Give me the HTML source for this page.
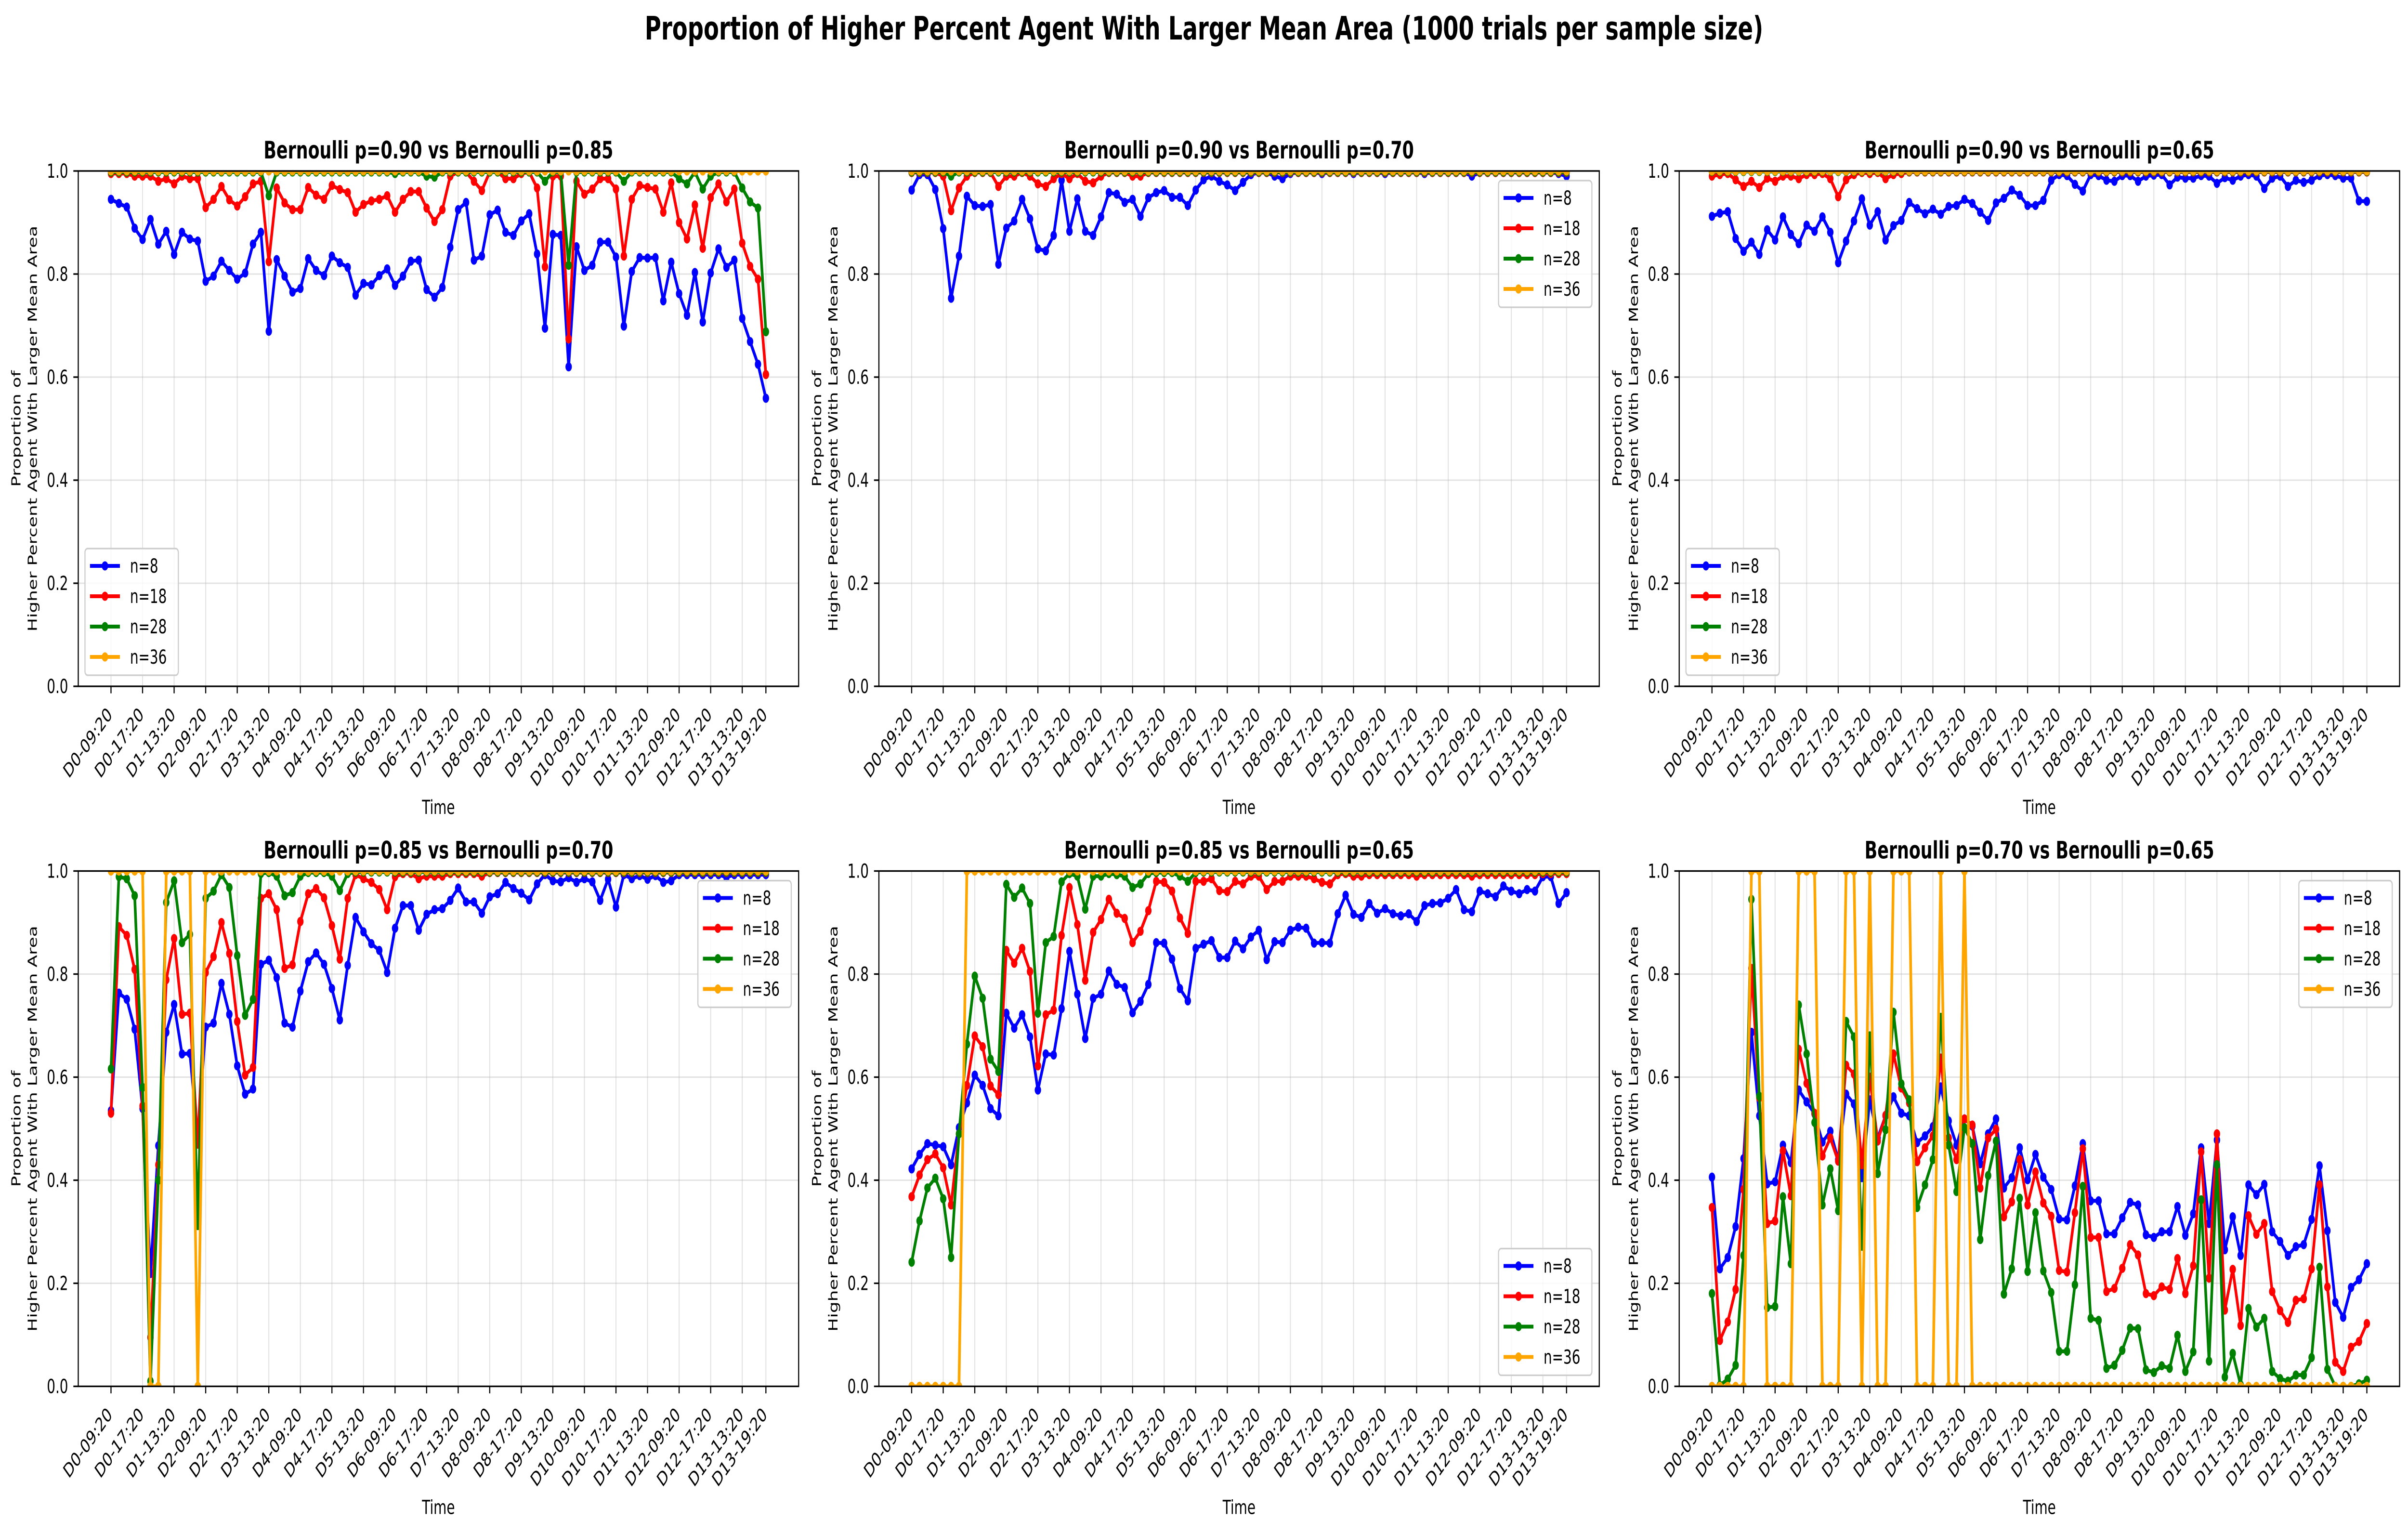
<!DOCTYPE html>
<html><head><meta charset="utf-8">
<style>
html,body{margin:0;padding:0;background:#fff;width:100%;height:100%;overflow:hidden;}
svg{display:block;width:100vw;height:100vh;font-family:"DejaVu Sans","Liberation Sans",sans-serif;}
</style></head>
<body>
<svg id="fig" xmlns="http://www.w3.org/2000/svg" viewBox="0 0 7170 3183" preserveAspectRatio="none">
<rect width="7170" height="3183" fill="#fff"/>
<text x="3585" y="82" text-anchor="middle" font-size="66.7" font-weight="bold">Proportion of Higher Percent Agent With Larger Mean Area (1000 trials per sample size)</text>
</svg>
<script>
// ---------- data ----------
const tickLabels = ["D0-09:20","D0-17:20","D1-13:20","D2-09:20","D2-17:20","D3-13:20","D4-09:20","D4-17:20","D5-13:20","D6-09:20","D6-17:20","D7-13:20","D8-09:20","D8-17:20","D9-13:20","D10-09:20","D10-17:20","D11-13:20","D12-09:20","D12-17:20","D13-13:20","D13-19:20"];
const tickIndex = [0,4,8,12,16,20,24,28,32,36,40,44,48,52,56,60,64,68,72,76,80,83];
const yTicks = [0.0,0.2,0.4,0.6,0.8,1.0];
const seriesNames = ["n=8","n=18","n=28","n=36"];
const panelTitles = ["Bernoulli p=0.90 vs Bernoulli p=0.85","Bernoulli p=0.90 vs Bernoulli p=0.70","Bernoulli p=0.90 vs Bernoulli p=0.65","Bernoulli p=0.85 vs Bernoulli p=0.70","Bernoulli p=0.85 vs Bernoulli p=0.65","Bernoulli p=0.70 vs Bernoulli p=0.65"];

const p1_n8 = [0.945,0.937,0.93,0.889,0.867,0.906,0.858,0.883,0.838,0.881,0.868,0.864,0.786,0.796,0.825,0.807,0.79,0.802,0.858,0.881,0.689,0.828,0.796,0.765,0.772,0.83,0.807,0.797,0.835,0.822,0.813,0.759,0.782,0.779,0.797,0.81,0.778,0.796,0.825,0.827,0.77,0.755,0.774,0.852,0.925,0.939,0.827,0.835,0.915,0.924,0.881,0.875,0.903,0.917,0.839,0.695,0.877,0.875,0.62,0.853,0.807,0.817,0.862,0.862,0.833,0.699,0.805,0.832,0.831,0.832,0.748,0.823,0.762,0.72,0.803,0.707,0.802,0.849,0.813,0.827,0.714,0.669,0.625,0.559];
const p1_n18 = [0.995,0.995,0.995,0.99,0.99,0.99,0.98,0.985,0.975,0.99,0.985,0.985,0.929,0.945,0.97,0.944,0.932,0.95,0.975,0.98,0.824,0.967,0.938,0.925,0.925,0.968,0.953,0.945,0.972,0.964,0.958,0.92,0.935,0.942,0.945,0.952,0.92,0.945,0.96,0.96,0.928,0.902,0.925,0.99,0.998,0.998,0.98,0.962,0.998,0.998,0.985,0.985,0.995,0.998,0.967,0.814,0.99,0.99,0.674,0.98,0.955,0.965,0.985,0.985,0.965,0.835,0.945,0.972,0.968,0.965,0.92,0.977,0.9,0.868,0.934,0.85,0.948,0.975,0.94,0.965,0.86,0.815,0.79,0.605];
const p1_n28 = [0.998,0.998,0.998,0.998,0.998,0.998,0.998,0.998,0.998,0.998,0.998,0.998,0.998,0.998,0.998,0.998,0.998,0.998,0.998,0.998,0.952,0.998,0.998,0.998,0.998,0.998,0.998,0.998,0.998,0.998,0.998,0.998,0.998,0.998,0.998,0.998,0.995,0.998,0.998,0.998,0.99,0.988,0.998,0.998,0.998,0.998,0.998,0.998,0.998,0.998,0.998,0.998,0.998,0.998,0.998,0.98,0.998,0.998,0.817,0.998,0.998,0.998,0.998,0.998,0.998,0.98,0.998,0.998,0.998,0.998,0.998,0.998,0.985,0.975,0.998,0.965,0.99,0.998,0.998,0.998,0.967,0.94,0.928,0.688];
const p1_n36 = [1,1,1,1,1,1,1,1,1,1,1,1,1,1,1,1,1,1,1,1,1,1,1,1,1,1,1,1,1,1,1,1,1,1,1,1,1,1,1,1,1,1,1,1,1,1,1,1,1,1,1,1,1,1,1,1,1,1,1,1,1,1,1,1,1,1,1,1,1,1,1,1,1,1,1,1,1,1,1,1,1,1,1,1];

const p2_n8 = [0.963,0.993,0.993,0.964,0.888,0.753,0.835,0.951,0.933,0.931,0.935,0.819,0.889,0.903,0.945,0.907,0.849,0.845,0.875,0.982,0.883,0.946,0.883,0.875,0.911,0.958,0.955,0.939,0.945,0.912,0.948,0.958,0.962,0.949,0.949,0.933,0.963,0.983,0.99,0.98,0.973,0.962,0.978,0.993,0.997,0.997,0.99,0.985,0.995,0.997,0.997,0.997,0.995,0.997,0.997,0.997,0.995,0.997,0.997,0.997,0.995,0.997,0.997,0.997,0.997,0.995,0.997,0.997,0.997,0.997,0.997,0.99,0.997,0.997,0.997,0.997,0.997,0.997,0.997,0.997,0.997,0.997,0.995,0.99];
const p2_n18 = [0.997,0.997,0.997,0.997,0.99,0.923,0.967,0.99,0.997,0.997,0.997,0.97,0.99,0.99,0.997,0.99,0.975,0.97,0.985,0.995,0.985,0.995,0.98,0.977,0.99,0.997,0.997,0.997,0.99,0.99,0.997,0.997,0.997,0.997,0.997,0.997,0.997,0.997,0.997,0.997,0.997,0.997,0.997,0.997,0.997,0.997,0.997,0.997,0.997,0.997,0.997,0.997,0.997,0.997,0.997,0.997,0.997,0.997,0.997,0.997,0.997,0.997,0.997,0.997,0.997,0.997,0.997,0.997,0.997,0.997,0.997,0.997,0.997,0.997,0.997,0.997,0.997,0.997,0.997,0.997,0.997,0.997,0.997,0.997];
const p2_n28 = [0.998,0.998,0.998,0.998,0.998,0.99,0.998,0.998,0.998,0.998,0.998,0.998,0.998,0.998,0.998,0.998,0.998,0.998,0.998,0.998,0.998,0.998,0.998,0.998,0.998,0.998,0.998,0.998,0.998,0.998,0.998,0.998,0.998,0.998,0.998,0.998,0.998,0.998,0.998,0.998,0.998,0.998,0.998,0.998,0.998,0.998,0.998,0.998,0.998,0.998,0.998,0.998,0.998,0.998,0.998,0.998,0.998,0.998,0.998,0.998,0.998,0.998,0.998,0.998,0.998,0.998,0.998,0.998,0.998,0.998,0.998,0.998,0.998,0.998,0.998,0.998,0.998,0.998,0.998,0.998,0.998,0.998,0.998,0.998];
const p2_n36 = [1,1,1,1,1,1,1,1,1,1,1,1,1,1,1,1,1,1,1,1,1,1,1,1,1,1,1,1,1,1,1,1,1,1,1,1,1,1,1,1,1,1,1,1,1,1,1,1,1,1,1,1,1,1,1,1,1,1,1,1,1,1,1,1,1,1,1,1,1,1,1,1,1,1,1,1,1,1,1,1,1,1,1,1];

const p3_n8 = [0.912,0.918,0.921,0.869,0.844,0.862,0.838,0.886,0.866,0.911,0.877,0.859,0.895,0.883,0.911,0.881,0.822,0.864,0.903,0.946,0.895,0.921,0.866,0.894,0.904,0.939,0.927,0.917,0.926,0.916,0.931,0.933,0.945,0.937,0.92,0.904,0.938,0.947,0.963,0.953,0.933,0.933,0.943,0.982,0.993,0.991,0.974,0.961,0.993,0.991,0.982,0.98,0.991,0.991,0.98,0.99,0.992,0.993,0.973,0.988,0.986,0.986,0.991,0.99,0.976,0.987,0.982,0.99,0.993,0.99,0.966,0.986,0.99,0.97,0.982,0.978,0.982,0.991,0.993,0.991,0.986,0.986,0.942,0.941];
const p3_n18 = [0.99,0.993,0.995,0.983,0.97,0.98,0.968,0.986,0.98,0.99,0.99,0.985,0.993,0.993,0.995,0.985,0.95,0.983,0.993,0.997,0.995,0.997,0.985,0.993,0.995,0.998,0.998,0.998,0.998,0.998,0.998,0.998,0.998,0.998,0.998,0.998,0.998,0.998,0.998,0.998,0.998,0.998,0.998,0.998,0.998,0.998,0.998,0.998,0.998,0.998,0.998,0.998,0.998,0.998,0.998,0.998,0.998,0.998,0.998,0.998,0.998,0.998,0.998,0.998,0.998,0.998,0.998,0.998,0.998,0.998,0.998,0.998,0.998,0.998,0.998,0.998,0.998,0.998,0.998,0.998,0.998,0.998,0.998,0.998];
const p3_n28 = [0.999,0.999,0.999,0.999,0.999,0.999,0.999,0.999,0.999,0.999,0.999,0.999,0.999,0.999,0.999,0.999,0.999,0.999,0.999,0.999,0.999,0.999,0.999,0.999,0.999,0.999,0.999,0.999,0.999,0.999,0.999,0.999,0.999,0.999,0.999,0.999,0.999,0.999,0.999,0.999,0.999,0.999,0.999,0.999,0.999,0.999,0.999,0.999,0.999,0.999,0.999,0.999,0.999,0.999,0.999,0.999,0.999,0.999,0.999,0.999,0.999,0.999,0.999,0.999,0.999,0.999,0.999,0.999,0.999,0.999,0.999,0.999,0.999,0.999,0.999,0.999,0.999,0.999,0.999,0.999,0.999,0.999,0.999,0.999];
const p3_n36 = [1,1,1,1,1,1,1,1,1,1,1,1,1,1,1,1,1,1,1,1,1,1,1,1,1,1,1,1,1,1,1,1,1,1,1,1,1,1,1,1,1,1,1,1,1,1,1,1,1,1,1,1,1,1,1,1,1,1,1,1,1,1,1,1,1,1,1,1,1,1,1,1,1,1,1,1,1,1,1,1,1,1,1,1];

const p4_n8 = [0.535,0.763,0.751,0.693,0.539,0.219,0.467,0.687,0.741,0.645,0.646,0.482,0.697,0.705,0.782,0.722,0.622,0.567,0.577,0.819,0.827,0.793,0.705,0.697,0.767,0.824,0.841,0.819,0.772,0.711,0.817,0.91,0.882,0.859,0.846,0.803,0.889,0.933,0.933,0.885,0.916,0.925,0.927,0.943,0.967,0.94,0.94,0.918,0.95,0.956,0.978,0.966,0.957,0.944,0.975,0.993,0.981,0.979,0.987,0.978,0.985,0.979,0.943,0.984,0.93,0.993,0.985,0.991,0.984,0.991,0.978,0.981,0.993,0.993,0.993,0.993,0.993,0.993,0.988,0.993,0.993,0.993,0.993,0.993];
const p4_n18 = [0.53,0.892,0.875,0.809,0.544,0.095,0.43,0.789,0.869,0.722,0.724,0.47,0.803,0.834,0.9,0.84,0.708,0.604,0.619,0.947,0.956,0.925,0.811,0.818,0.902,0.956,0.966,0.948,0.894,0.829,0.947,0.993,0.985,0.978,0.964,0.925,0.989,0.995,0.995,0.985,0.99,0.99,0.99,0.995,0.995,0.995,0.995,0.99,0.997,0.997,0.997,0.997,0.997,0.997,0.997,0.997,0.997,0.997,0.997,0.997,0.997,0.997,0.997,0.997,0.997,0.997,0.997,0.997,0.997,0.997,0.997,0.997,0.997,0.997,0.997,0.997,0.997,0.997,0.997,0.997,0.997,0.997,0.997,0.997];
const p4_n28 = [0.616,0.989,0.985,0.952,0.58,0.01,0.4,0.939,0.981,0.861,0.877,0.312,0.947,0.961,0.993,0.968,0.836,0.72,0.751,0.995,0.997,0.99,0.952,0.958,0.99,0.997,0.997,0.997,0.99,0.962,0.995,0.998,0.998,0.998,0.998,0.998,0.998,0.998,0.998,0.998,0.998,0.998,0.998,0.998,0.998,0.998,0.998,0.998,0.998,0.998,0.998,0.998,0.998,0.998,0.998,0.998,0.998,0.998,0.998,0.998,0.998,0.998,0.998,0.998,0.998,0.998,0.998,0.998,0.998,0.998,0.998,0.998,0.998,0.998,0.998,0.998,0.998,0.998,0.998,0.998,0.998,0.998,0.998,0.998];
const p4_n36 = [1,1,1,1,1,0,0,1,1,1,1,0,1,1,1,1,1,1,1,1,1,1,1,1,1,1,1,1,1,1,1,1,1,1,1,1,1,1,1,1,1,1,1,1,1,1,1,1,1,1,1,1,1,1,1,1,1,1,1,1,1,1,1,1,1,1,1,1,1,1,1,1,1,1,1,1,1,1,1,1,1,1,1,1];

const p5_n8 = [0.422,0.45,0.471,0.468,0.465,0.43,0.502,0.55,0.604,0.584,0.539,0.525,0.724,0.695,0.721,0.678,0.575,0.645,0.643,0.733,0.844,0.761,0.675,0.753,0.761,0.806,0.78,0.774,0.725,0.747,0.78,0.861,0.86,0.829,0.772,0.748,0.85,0.858,0.865,0.832,0.832,0.864,0.849,0.872,0.885,0.828,0.863,0.861,0.885,0.891,0.889,0.86,0.861,0.86,0.917,0.953,0.916,0.91,0.937,0.918,0.927,0.917,0.913,0.917,0.902,0.933,0.937,0.938,0.947,0.964,0.925,0.921,0.961,0.956,0.95,0.971,0.961,0.956,0.964,0.961,0.989,0.989,0.937,0.958];
const p5_n18 = [0.368,0.41,0.44,0.451,0.424,0.352,0.49,0.584,0.68,0.659,0.583,0.566,0.846,0.821,0.85,0.805,0.622,0.721,0.73,0.875,0.968,0.896,0.788,0.881,0.906,0.945,0.918,0.908,0.861,0.883,0.923,0.98,0.978,0.961,0.909,0.879,0.98,0.98,0.985,0.962,0.96,0.98,0.975,0.99,0.99,0.964,0.98,0.98,0.99,0.99,0.99,0.985,0.978,0.975,0.993,0.995,0.99,0.99,0.993,0.993,0.993,0.993,0.993,0.993,0.99,0.993,0.993,0.993,0.993,0.993,0.993,0.99,0.993,0.993,0.993,0.993,0.993,0.993,0.993,0.993,0.995,0.995,0.995,0.995];
const p5_n28 = [0.241,0.321,0.385,0.404,0.364,0.25,0.49,0.664,0.796,0.753,0.635,0.611,0.974,0.949,0.967,0.937,0.724,0.861,0.873,0.979,0.995,0.99,0.926,0.99,0.99,0.995,0.993,0.99,0.968,0.975,0.995,0.997,0.997,0.997,0.99,0.98,0.997,0.998,0.998,0.998,0.998,0.998,0.998,0.998,0.998,0.998,0.998,0.998,0.998,0.998,0.998,0.998,0.998,0.998,0.998,0.998,0.998,0.998,0.998,0.998,0.998,0.998,0.998,0.998,0.998,0.998,0.998,0.998,0.998,0.998,0.998,0.998,0.998,0.998,0.998,0.998,0.998,0.998,0.998,0.998,0.998,0.998,0.998,0.998];
const p5_n36 = [0,0,0,0,0,0,0,1,1,1,1,1,1,1,1,1,1,1,1,1,1,1,1,1,1,1,1,1,1,1,1,1,1,1,1,1,1,1,1,1,1,1,1,1,1,1,1,1,1,1,1,1,1,1,1,1,1,1,1,1,1,1,1,1,1,1,1,1,1,1,1,1,1,1,1,1,1,1,1,1,1,1,1,1];

const p6_n8 = [0.406,0.228,0.25,0.31,0.442,0.687,0.525,0.393,0.397,0.468,0.434,0.575,0.552,0.529,0.474,0.495,0.44,0.567,0.548,0.405,0.556,0.482,0.525,0.562,0.53,0.525,0.473,0.486,0.504,0.581,0.515,0.468,0.519,0.505,0.432,0.49,0.519,0.385,0.405,0.463,0.401,0.45,0.406,0.382,0.325,0.323,0.389,0.471,0.36,0.36,0.296,0.296,0.327,0.357,0.352,0.294,0.289,0.3,0.3,0.349,0.293,0.335,0.463,0.316,0.478,0.265,0.329,0.254,0.391,0.372,0.392,0.3,0.281,0.254,0.271,0.275,0.324,0.428,0.302,0.163,0.134,0.192,0.207,0.238];
const p6_n18 = [0.347,0.089,0.125,0.188,0.382,0.811,0.56,0.316,0.321,0.457,0.37,0.654,0.588,0.53,0.447,0.482,0.437,0.623,0.606,0.43,0.6,0.476,0.526,0.645,0.579,0.55,0.436,0.463,0.486,0.637,0.482,0.44,0.519,0.507,0.385,0.482,0.499,0.329,0.358,0.44,0.352,0.416,0.356,0.33,0.225,0.222,0.337,0.461,0.289,0.289,0.184,0.19,0.229,0.275,0.255,0.18,0.176,0.193,0.188,0.248,0.18,0.234,0.455,0.21,0.49,0.148,0.227,0.118,0.331,0.295,0.316,0.184,0.147,0.124,0.167,0.17,0.228,0.391,0.193,0.047,0.029,0.076,0.087,0.122];
const p6_n28 = [0.18,0.002,0.014,0.041,0.254,0.945,0.563,0.153,0.155,0.368,0.238,0.74,0.645,0.512,0.352,0.422,0.341,0.708,0.678,0.272,0.68,0.413,0.498,0.726,0.587,0.556,0.347,0.391,0.44,0.716,0.468,0.378,0.502,0.471,0.285,0.409,0.476,0.179,0.228,0.365,0.223,0.337,0.224,0.182,0.068,0.068,0.197,0.388,0.132,0.128,0.035,0.041,0.07,0.113,0.112,0.032,0.027,0.04,0.035,0.099,0.029,0.067,0.362,0.049,0.43,0.018,0.064,0.003,0.151,0.115,0.132,0.029,0.015,0.01,0.022,0.022,0.056,0.231,0.033,0,0,0,0.005,0.012];
const p6_n36 = [0,0,0,0,0,1,1,0,0,0,0,1,1,1,0,0,0,1,1,0,1,0,0,1,1,1,0,0,0,1,0,0,1,0,0,0,0,0,0,0,0,0,0,0,0,0,0,0,0,0,0,0,0,0,0,0,0,0,0,0,0,0,0,0,0,0,0,0,0,0,0,0,0,0,0,0,0,0,0,0,0,0,0,0];

const panelData = [[p1_n8,p1_n18,p1_n28,p1_n36],[p2_n8,p2_n18,p2_n28,p2_n36],[p3_n8,p3_n18,p3_n28,p3_n36],[p4_n8,p4_n18,p4_n28,p4_n36],[p5_n8,p5_n18,p5_n28,p5_n36],[p6_n8,p6_n18,p6_n28,p6_n36]];
const legendLoc = ["lower left","upper right","lower left","upper right","lower right","upper right"];

// ---------- drawing ----------
const NS = "http://www.w3.org/2000/svg";
const svg = document.getElementById("fig");
const COLORS = ["#0000ff","#ff0000","#008000","#ffa500"];
const AX_W = 2145, AX_H = 1070;
const LEFTS = [233, 2617, 5000], TOPS = [355, 1808.5];
const NPTS = 84;

function mk(tag, attrs, parent) {
  const e = document.createElementNS(NS, tag);
  for (const k in attrs) e.setAttribute(k, attrs[k]);
  (parent || svg).appendChild(e);
  return e;
}

panelData.forEach((series, p) => {
  const L = LEFTS[p % 3], T = TOPS[Math.floor(p / 3)], B = T + AX_H, R = L + AX_W;
  const xs = i => L + AX_W * (i + 0.05 * (NPTS - 1)) / ((NPTS - 1) * 1.1);
  const ys = v => B - v * AX_H;

  const g = mk("g", {});
  
  

  const cp = mk("clipPath", { id: "clip" + p }, g);
  mk("rect", { x: L, y: T, width: AX_W, height: AX_H }, cp);

  const grid = mk("g", { stroke: "#b0b0b0", "stroke-opacity": "0.35", "stroke-width": "3" }, g);
  
  
  tickIndex.forEach(ti => mk("line", { x1: xs(ti), x2: xs(ti), y1: T, y2: B }, grid));
  yTicks.forEach(v => mk("line", { x1: L, x2: R, y1: ys(v), y2: ys(v) }, grid));

  series.forEach((vals, s) => {
    const sg = mk("g", { "clip-path": "url(#clip" + p + ")" }, g);
    
    
    const pts = vals.map((v, i) => xs(i).toFixed(1) + "," + ys(v).toFixed(1)).join(" ");
    const pl = mk("polyline", { points: pts, fill: "none", stroke: COLORS[s], "stroke-width": "8", "stroke-linejoin": "round" }, sg);
    
    
    vals.forEach((v, i) => {
      const c = mk("circle", { cx: xs(i).toFixed(1), cy: ys(v).toFixed(1), r: "9.5", fill: COLORS[s] }, sg);
      
      
    });
  });

  const sp = mk("rect", { x: L, y: T, width: AX_W, height: AX_H, fill: "none", stroke: "#000", "stroke-width": "3.3" }, g);
  
  

  yTicks.forEach(v => {
    mk("line", { x1: L - 14.6, x2: L, y1: ys(v), y2: ys(v), stroke: "#000", "stroke-width": "3.3" }, g);
    const t = mk("text", { x: L - 30, y: ys(v) + 14, "text-anchor": "end", "font-size": "40" }, g);
    
    
    t.textContent = v.toFixed(1);
  });
  tickIndex.forEach((ti, k) => {
    const x = xs(ti);
    mk("line", { x1: x, x2: x, y1: B, y2: B + 14.6, stroke: "#000", "stroke-width": "3.3" }, g);
    const t = mk("text", { x: 0, y: 0, "text-anchor": "end", "font-size": "40", transform: "translate(" + (x + 6).toFixed(1) + "," + (B + 61) + ") rotate(-45)" }, g);
    
    
    t.textContent = tickLabels[k];
  });

  const tt = mk("text", { x: L + AX_W / 2, y: T - 26, "text-anchor": "middle", "font-size": "50", "font-weight": "bold" }, g);
  
  
  tt.textContent = panelTitles[p];

  const xl = mk("text", { x: L + AX_W / 2, y: B + 265, "text-anchor": "middle", "font-size": "40" }, g);
  
  
  xl.textContent = "Time";
  const yl = mk("text", { "text-anchor": "middle", "font-size": "37.5", transform: "translate(" + (L - 172) + "," + (T + AX_H / 2) + ") rotate(-90)" }, g);
  
  
  const t1 = mk("tspan", { x: 0, y: 0 }, yl); t1.textContent = "Proportion of";
  const t2 = mk("tspan", { x: 0, y: 49 }, yl); t2.textContent = "Higher Percent Agent With Larger Mean Area";

  const LW = 278, LH = 263;
  let lx, ly;
  if (legendLoc[p] === "lower left") { lx = L + 20; ly = B - 23 - LH; }
  else if (legendLoc[p] === "upper right") { lx = R - 22 - LW; ly = T + 20; }
  else { lx = R - 22 - LW; ly = B - 23 - LH; }
  const lg = mk("g", {}, g);
  
  
  mk("rect", { x: lx, y: ly, width: LW, height: LH, rx: 8, fill: "#fff", "fill-opacity": "0.8", stroke: "#cccccc", "stroke-width": "3.3" }, lg);
  seriesNames.forEach((nm, s) => {
    const cy = ly + 36 + s * 63;
    const eg = mk("g", {}, lg);
    
    
    mk("line", { x1: lx + 15, x2: lx + 104, y1: cy, y2: cy, stroke: COLORS[s], "stroke-width": "8" }, eg);
    mk("circle", { cx: lx + 59.5, cy: cy, r: "9.5", fill: COLORS[s] }, eg);
    const lt = mk("text", { x: lx + 134, y: cy + 14, "font-size": "40" }, eg);
    lt.textContent = nm;
  });
});
</script>
</body></html>
